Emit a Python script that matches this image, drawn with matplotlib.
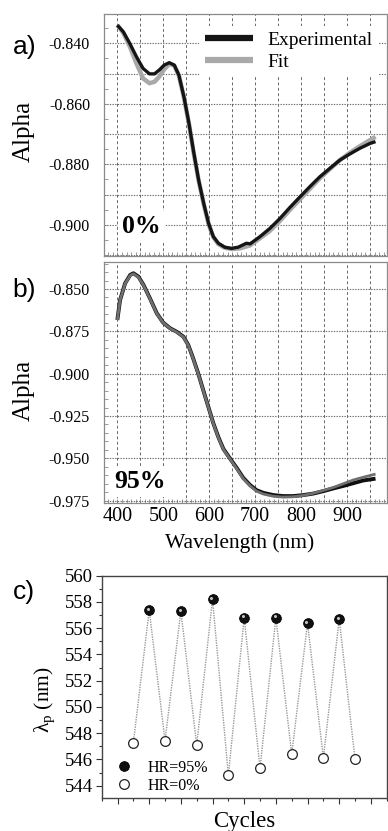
import numpy as np
import matplotlib
matplotlib.use("Agg")
import matplotlib.pyplot as plt
from matplotlib.ticker import MultipleLocator, FuncFormatter
from matplotlib import transforms

plt.rcParams['font.family'] = ['Liberation Serif', 'DejaVu Serif']
plt.rcParams['axes.unicode_minus'] = False
plt.rcParams['mathtext.fontset'] = 'custom'
plt.rcParams['mathtext.rm'] = 'Liberation Serif'
plt.rcParams['mathtext.it'] = 'Liberation Serif:italic'

# ---------------- data ----------------
# panel a (HR = 0%)
wl_a_exp = [400, 413, 427, 441.5, 456, 470, 481, 491.5, 502, 513, 524, 534, 545, 556, 566,
            577, 588, 598.6, 609, 620, 634, 648.6, 663, 681, 689, 710.5, 732, 754, 776, 798,
            819, 841, 863, 884.5, 906, 928, 950, 962]
alpha_a_exp = [-0.8340, -0.8362, -0.8400, -0.8444, -0.8483, -0.8501, -0.8501, -0.8488, -0.8472,
               -0.8464, -0.8472, -0.8505, -0.8577, -0.8665, -0.8758, -0.8852, -0.8929, -0.8995,
               -0.9039, -0.9061, -0.9074, -0.9078, -0.9074, -0.9061, -0.9063, -0.9039, -0.9012,
               -0.8979, -0.8942, -0.8907, -0.8874, -0.8841, -0.8813, -0.8786, -0.8766, -0.8747,
               -0.8731, -0.8725]
wl_a_fit = [400, 413, 427, 441.5, 456, 470, 481, 491.5, 502, 513, 524, 534, 545, 556, 566,
            577, 588, 598.6, 609, 620, 634, 648.6, 667, 689, 710, 732, 754, 776, 798,
            819, 841, 863, 884.5, 906, 928, 950, 962]
alpha_a_fit = [-0.8340, -0.8365, -0.8410, -0.8466, -0.8516, -0.8532, -0.8527, -0.8510, -0.8486,
               -0.8468, -0.8474, -0.8507, -0.8579, -0.8667, -0.8760, -0.8854, -0.8931, -0.8997,
               -0.9041, -0.9064, -0.9076, -0.9080, -0.9078, -0.9068, -0.9045, -0.9020, -0.8987,
               -0.8950, -0.8915, -0.8881, -0.8846, -0.8815, -0.8786, -0.8762, -0.8740, -0.8720,
               -0.8709]

# panel b (HR = 95%)
wl_b_exp = [400, 406, 417, 428, 435, 446, 457, 471, 486, 500, 515, 529, 544, 554.5, 565, 576,
            587, 598, 609, 620, 631, 645, 660, 674, 689, 703, 718, 739.5, 761, 783, 805, 827,
            848, 870, 892, 913.6, 935, 962]
alpha_b_exp = [-0.8683, -0.8565, -0.8466, -0.8417, -0.8407, -0.8427, -0.8476, -0.8555, -0.8644,
               -0.8699, -0.8732, -0.8752, -0.8782, -0.8831, -0.8909, -0.8998, -0.9097, -0.9195,
               -0.9293, -0.9375, -0.9445, -0.9500, -0.9557, -0.9615, -0.9658, -0.9688, -0.9704,
               -0.9717, -0.9723, -0.9723, -0.9717, -0.9708, -0.9694, -0.9678, -0.9663, -0.9647,
               -0.9631, -0.9620]
alpha_b_fit = [-0.8683, -0.8565, -0.8468, -0.8420, -0.8410, -0.8430, -0.8478, -0.8557, -0.8646,
               -0.8700, -0.8733, -0.8754, -0.8784, -0.8833, -0.8911, -0.9000, -0.9099, -0.9197,
               -0.9295, -0.9378, -0.9448, -0.9503, -0.9561, -0.9620, -0.9663, -0.9694, -0.9711,
               -0.9724, -0.9729, -0.9727, -0.9719, -0.9706, -0.9690, -0.9672, -0.9650, -0.9628,
               -0.9612, -0.9593]

# panel c
cycle_pos = [0.5, 1, 1.5, 2, 2.5, 3, 3.5, 4, 4.5, 5, 5.5, 6, 6.5, 7, 7.5]
lam_all = [547.27, 557.37, 547.43, 557.29, 547.1, 558.2, 544.79, 556.78, 545.32, 556.8,
           546.39, 556.37, 546.11, 556.7, 546.01]
hr95_x = [1, 2, 3, 4, 5, 6, 7]
hr95_lam = [557.37, 557.29, 558.2, 556.78, 556.8, 556.37, 556.7]
hr0_x = [0.5, 1.5, 2.5, 3.5, 4.5, 5.5, 6.5, 7.5]
hr0_lam = [547.27, 547.43, 547.1, 544.79, 545.32, 546.39, 546.11, 546.01]

# ---------------- figure ----------------
W, H = 388, 831
fig = plt.figure(figsize=(W / 100, H / 100), dpi=100)

def frac_box(l, t, r, b):
    return [l / W, 1 - b / H, (r - l) / W, (b - t) / H]

ax_a = fig.add_axes(frac_box(104, 14, 387, 256))
ax_b = fig.add_axes(frac_box(104, 262, 387, 503.3))
ax_c = fig.add_axes(frac_box(101.7, 575.6, 386.7, 798))

spine_col = '#8a8a8a'
grid_col = '#6a6a6a'

def style_ab(ax, ymaj, ylabfmt_every):
    ax.set_xlim(371, 987)
    ax.xaxis.set_major_locator(MultipleLocator(50))
    ax.xaxis.set_minor_locator(MultipleLocator(10))
    ax.yaxis.set_major_locator(MultipleLocator(ymaj))
    ax.yaxis.set_minor_locator(MultipleLocator(0.005))
    ax.tick_params(axis='both', which='both', direction='in', color=spine_col,
                   length=3, width=0.6, top=False, right=False)
    ax.tick_params(axis='y', labelsize=11.5, pad=10)
    ax.tick_params(axis='x', labelsize=14.5, pad=3)
    for s in ax.spines.values():
        s.set_color(spine_col)
        s.set_linewidth(0.9)
    ax.grid(True, which='major', axis='x', color=grid_col, linestyle=(0, (3, 2.5)), linewidth=0.7)
    ax.grid(True, which='major', axis='y', color=grid_col, linestyle=(0, (1.2, 1.2)), linewidth=0.8)
    ax.set_axisbelow(True)

    def yfmt(v, pos):
        k = round(v / ylabfmt_every, 6)
        if abs(k - round(k)) < 1e-4:
            return '%.3f' % v
        return ''
    ax.yaxis.set_major_formatter(FuncFormatter(yfmt))

    def xfmt(v, pos):
        if abs(v / 100 - round(v / 100)) < 1e-6 and 400 <= v <= 900:
            return '%d' % v
        return ''
    ax.xaxis.set_major_formatter(FuncFormatter(xfmt))

# panel a
style_ab(ax_a, 0.01, 0.02)
ax_a.set_ylim(-0.91031, -0.83031)
ax_a.tick_params(axis='x', labelbottom=False)
l_fit, = ax_a.plot(wl_a_fit, alpha_a_fit, color='#a9a9a9', lw=3.2, solid_capstyle='butt', label='Fit')
l_exp, = ax_a.plot(wl_a_exp, alpha_a_exp, color='#151515', lw=2.4, solid_capstyle='butt', label='Experimental')
leg_a = ax_a.legend(handles=[l_exp, l_fit], labels=['Experimental', 'Fit'],
                    loc='upper left', bbox_to_anchor=(0.336, 0.952), fontsize=14,
                    handlelength=2.47, handletextpad=0.72, labelspacing=0.2,
                    borderpad=0.3, borderaxespad=0, frameon=True, fancybox=False)
leg_a.get_frame().set_facecolor('white')
leg_a.get_frame().set_edgecolor('none')
leg_a.get_frame().set_alpha(1)
for h in leg_a.legend_handles:
    h.set_linewidth(4.5)
ax_a.text(0.132, 0.121, '0%', transform=ax_a.transAxes, ha='center', va='center',
          fontsize=18.5, fontweight='bold',
          bbox=dict(facecolor='white', edgecolor='none', pad=3))

# panel b
style_ab(ax_b, 0.025, 0.025)
ax_b.set_ylim(-0.97656, -0.83405)
ax_b.plot(wl_b_exp, alpha_b_exp, color='#101010', lw=2.8, solid_capstyle='butt')
ax_b.plot(wl_b_exp, alpha_b_fit, color='#6f6f6f', lw=2.0, solid_capstyle='butt')
ax_b.text(0.127, 0.0895, '95%', transform=ax_b.transAxes, ha='center', va='center',
          fontsize=18.5, fontweight='bold',
          bbox=dict(facecolor='white', edgecolor='none', pad=3))

# panel c
ax_c.set_xlim(-0.5, 8.5)
ax_c.set_ylim(543.06, 560)
ax_c.xaxis.set_major_locator(MultipleLocator(1))
ax_c.xaxis.set_minor_locator(MultipleLocator(0.5))
ax_c.yaxis.set_major_locator(MultipleLocator(2))
ax_c.yaxis.set_minor_locator(MultipleLocator(1))
ax_c.tick_params(axis='both', which='major', direction='out', length=4.5, width=0.8, color='#333333')
ax_c.tick_params(axis='both', which='minor', direction='out', length=2.5, width=0.8, color='#333333')
ax_c.tick_params(axis='x', labelbottom=False)
ax_c.tick_params(axis='y', labelsize=13.5, pad=2)
for s in ax_c.spines.values():
    s.set_color('#444444')
    s.set_linewidth(1.0)
ax_c.plot(cycle_pos, lam_all, color='#9a9a9a', lw=1.0, linestyle=(0, (1, 0.8)), zorder=1)
h95, = ax_c.plot(hr95_x, hr95_lam, linestyle='none', marker='o', ms=7, mfc='#101010',
                 mec='#000000', mew=0.6, zorder=3, label='HR=95%')
hl = transforms.offset_copy(ax_c.transData, fig=fig, x=-0.9, y=1.0, units='points')
ax_c.plot(hr95_x, hr95_lam, linestyle='none', marker='o', ms=2.2, mfc='white', mec='none',
          alpha=0.75, transform=hl, zorder=4)
h0, = ax_c.plot(hr0_x, hr0_lam, linestyle='none', marker='o', ms=7, mfc='white',
                mec='#222222', mew=0.9, zorder=3, label='HR=0%')
ax_c.legend(handles=[h95, h0], loc='lower left', bbox_to_anchor=(0.0516, 0.018),
            fontsize=11.5, handlelength=1.0, handletextpad=0.93, labelspacing=0.12,
            borderpad=0, borderaxespad=0, frameon=False)

# figure texts
sans = ['Liberation Sans', 'DejaVu Sans']
fig.text(12.5 / W, 1 - 47 / H, 'a)', family=sans, fontsize=19, ha='left', va='center')
fig.text(12.5 / W, 1 - 290 / H, 'b)', family=sans, fontsize=19, ha='left', va='center')
fig.text(12.5 / W, 1 - 592 / H, 'c)', family=sans, fontsize=19, ha='left', va='center')
fig.text(23.3 / W, 1 - 131 / H, 'Alpha', fontsize=18, rotation=90, ha='center', va='center')
fig.text(23.3 / W, 1 - 390 / H, 'Alpha', fontsize=18, rotation=90, ha='center', va='center')
fig.text(240 / W, 1 - 543 / H, 'Wavelength (nm)', fontsize=15.5, ha='center', va='center')
fig.text(244 / W, 1 - 821 / H, 'Cycles', fontsize=16.5, ha='center', va='center')
fig.text(45 / W, 1 - 700 / H, r'λ$_\mathrm{p}$ (nm)', fontsize=15.5, rotation=90,
         ha='center', va='center')

fig.savefig('out.png', dpi=100)
